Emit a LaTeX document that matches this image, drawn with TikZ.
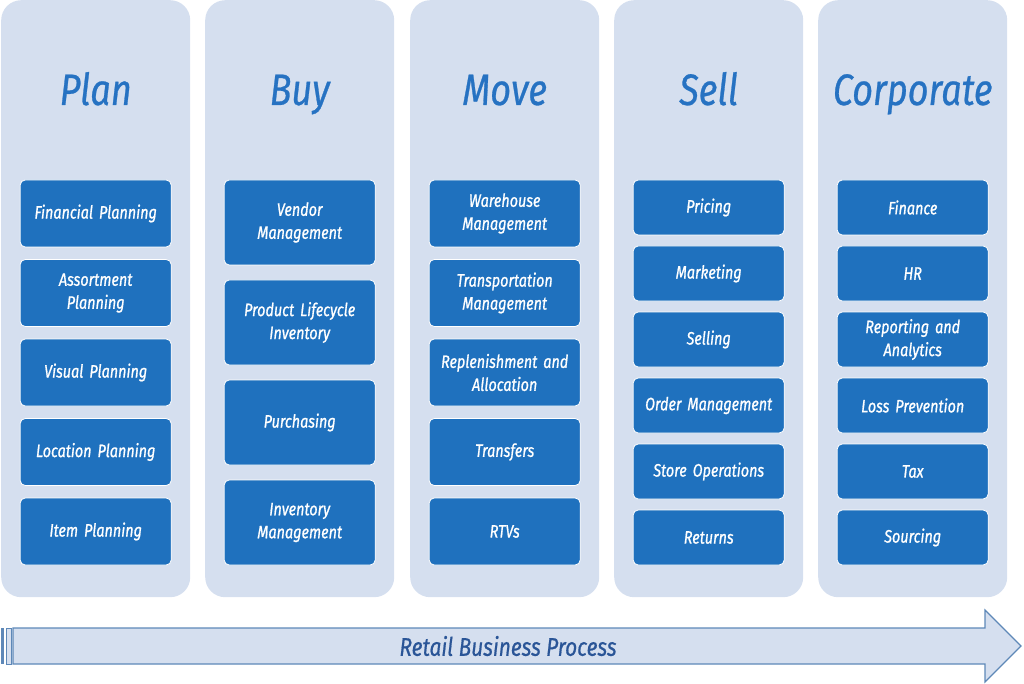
\documentclass[tikz,border=0pt]{standalone}
\usepackage{fontspec}
\setmainfont{Fira Sans}[FakeStretch=0.82]
\newfontfamily\boxfont{Fira Sans}[FakeStretch=0.8, FakeBold=0.9]
\newfontfamily\headfont{Fira Sans}[FakeStretch=0.82, FakeBold=0.6]
\usepackage{tikz}
\usetikzlibrary{positioning,calc}
\definecolor{colfill}{HTML}{D5DFEF}
\definecolor{itemfill}{HTML}{1F71BE}
\definecolor{titleblue}{HTML}{2672C2}
\definecolor{arrowline}{HTML}{5E88B8}
\definecolor{labelblue}{HTML}{2A5597}
\tikzset{
  colbox/.style={fill=colfill, draw=none, rounded corners=20pt, anchor=north west,
    minimum width=189pt, minimum height=597pt, inner sep=0pt},
  coltitle/.style={font=\headfont\fontsize{44}{48}\selectfont\itshape, text=titleblue, anchor=base},
  itembox/.style={fill=itemfill, draw=white, line width=0.8pt, rounded corners=5pt,
    text=white, align=center, text width=151pt, minimum width=151pt, inner sep=0pt,
    outer sep=0pt, font=\boxfont\fontsize{18}{23}\selectfont\itshape},
  fivebox/.style={itembox, minimum height=67pt},
  fourbox/.style={itembox, minimum height=85pt},
  sixbox/.style={itembox, minimum height=55pt},
}

\begin{document}
\begin{tikzpicture}[x=1pt, y=1pt, node distance=12.5pt]
  \useasboundingbox (0,0) rectangle (1024,-684);

  % columns
  \node[colbox] (plan) at (1,0) {};
  \node[colbox] (buy) at (205,0) {};
  \node[colbox] (move) at (410,0) {};
  \node[colbox] (sell) at (614,0) {};
  \node[colbox] (corp) at (818,0) {};

  \node[coltitle] (plant) at ($(plan.north)+(0,-105)$) {Plan};
  \node[coltitle] (buyt) at ($(buy.north)+(0,-105)$) {Buy};
  \node[coltitle] (movet) at ($(move.north)+(0,-105)$) {Move};
  \node[coltitle] (sellt) at ($(sell.north)+(0,-105)$) {Sell};
  \node[coltitle] (corpt) at ($(corp.north)+(0,-105)$) {Corporate};

  % Plan
  \node[fivebox, anchor=north] (fin) at ($(plan.north)+(0,-180)$) {Financial Planning};
  \node[fivebox, below=of fin] (assort) {Assortment\\Planning};
  \node[fivebox, below=of assort] (visual) {Visual Planning};
  \node[fivebox, below=of visual] (loc) {Location Planning};
  \node[fivebox, below=of loc] (itemp) {Item Planning};

  % Buy
  \node[fourbox, anchor=north] (vendor) at ($(buy.north)+(0,-180)$) {Vendor\\Management};
  \node[fourbox, below=15pt of vendor] (plc) {Product Lifecycle\\Inventory};
  \node[fourbox, below=15pt of plc] (purch) {Purchasing};
  \node[fourbox, below=15pt of purch] (inv) {Inventory\\Management};

  % Move
  \node[fivebox, anchor=north] (wh) at ($(move.north)+(0,-180)$) {Warehouse\\Management};
  \node[fivebox, below=of wh] (trans) {Transportation\\Management};
  \node[fivebox, below=of trans] (repl) {Replenishment and\\Allocation};
  \node[fivebox, below=of repl] (transf) {Transfers};
  \node[fivebox, below=of transf] (rtv) {RTVs};

  % Sell
  \node[sixbox, anchor=north] (price) at ($(sell.north)+(0,-180)$) {Pricing};
  \node[sixbox, below=11pt of price] (mkt) {Marketing};
  \node[sixbox, below=11pt of mkt] (selling) {Selling};
  \node[sixbox, below=11pt of selling] (order) {Order Management};
  \node[sixbox, below=11pt of order] (store) {Store Operations};
  \node[sixbox, below=11pt of store] (ret) {Returns};

  % Corporate
  \node[sixbox, anchor=north] (finance) at ($(corp.north)+(0,-180)$) {Finance};
  \node[sixbox, below=11pt of finance] (hr) {HR};
  \node[sixbox, below=11pt of hr] (report) {Reporting and\\Analytics};
  \node[sixbox, below=11pt of report] (loss) {Loss Prevention};
  \node[sixbox, below=11pt of loss] (tax) {Tax};
  \node[sixbox, below=11pt of tax] (src) {Sourcing};

  % process arrow
  \fill[arrowline] (1,-628) rectangle (4,-664);
  \draw[arrowline, fill=colfill, line width=0.8pt] (6,-628) rectangle (11,-664);
  \draw[arrowline, fill=colfill, line width=1.2pt]
    (13,-628) -- (985,-628) -- (985,-610) -- (1021,-646) -- (985,-682)
    -- (985,-664) -- (13,-664) -- cycle;
  \node[font=\headfont\fontsize{25.5}{28}\selectfont\itshape, text=labelblue] (process)
    at (508,-646) {Retail Business Process};
\end{tikzpicture}
\end{document}
